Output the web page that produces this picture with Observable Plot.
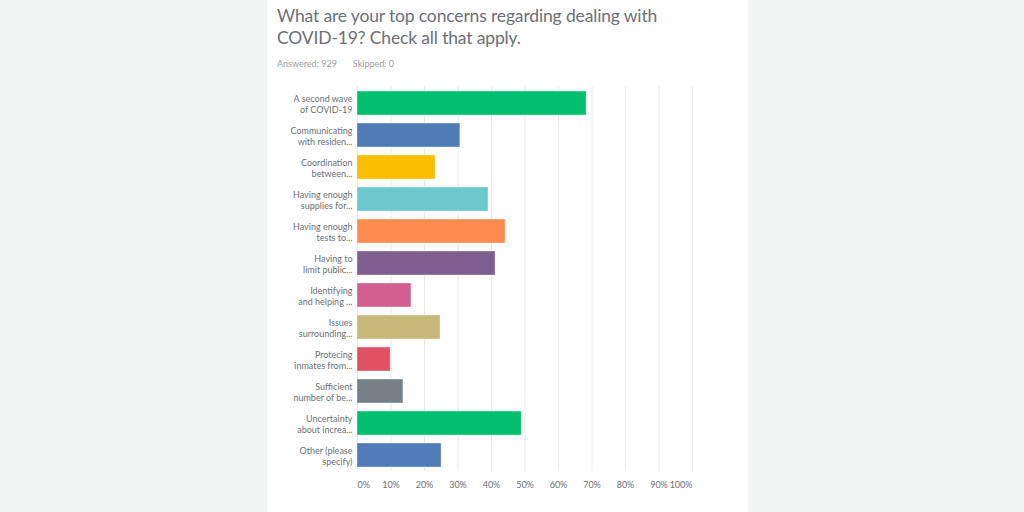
<!DOCTYPE html>
<html>
<head>
<meta charset="utf-8">
<script src="https://cdn.jsdelivr.net/npm/d3@7"></script>
<script src="https://cdn.jsdelivr.net/npm/@observablehq/plot@0.6"></script>
<style>
  html, body { margin: 0; padding: 0; width: 1024px; height: 512px; overflow: hidden; background: #f3f4f4; font-family: Lato, "Open Sans", sans-serif; }
  #card { position: absolute; left: 267px; top: 0; width: 481px; height: 512px; background: #ffffff; }
  #title { position: absolute; left: 10px; top: 5px; width: 470px; font-size: 17.5px; line-height: 22px; color: #6b7078; font-weight: 400; letter-spacing: -0.15px; white-space: nowrap; }
  #meta { position: absolute; left: 10px; top: 58px; font-size: 9px; color: #9a9ea3; }
  #meta span { margin-right: 16px; }
  #chart { position: absolute; left: 0; top: 80px; }
</style>
</head>
<body>
<div id="card">
  <div id="title">What are your top concerns regarding dealing with<br>COVID-19? Check all that apply.</div>
  <div id="meta"><span>Answered: 929</span><span>Skipped: 0</span></div>
  <div id="chart"></div>
</div>
<script>
const categories = [
  "A second wave\nof COVID-19",
  "Communicating\nwith residen...",
  "Coordination\nbetween...",
  "Having enough\nsupplies for...",
  "Having enough\ntests to...",
  "Having to\nlimit public...",
  "Identifying\nand helping ...",
  "Issues\nsurrounding...",
  "Protecing\ninmates from...",
  "Sufficient\nnumber of be...",
  "Uncertainty\nabout increa...",
  "Other (please\nspecify)"
];
const values = [68.4, 30.7, 23.3, 39.1, 44.2, 41.2, 16.1, 24.8, 9.9, 13.7, 49.0, 25.1];
const palette = ["#00bf6f", "#507cb6", "#f9be00", "#6bc8cd", "#ff8b4f", "#7f5f90", "#d25f90", "#c8b87a", "#e05263", "#768086", "#00bf6e", "#507cb7"];
const xTicks = [0, 10, 20, 30, 40, 50, 60, 70, 80, 90, 100];

const data = categories.map((c, i) => ({category: c, value: values[i]}));
const fmt = d => d + "%";

const chart = Plot.plot({
  width: 481,
  height: 432,
  marginLeft: 90,
  marginRight: 56,
  marginTop: 6,
  marginBottom: 41,
  style: {fontFamily: "Lato, 'Open Sans', sans-serif", color: "#6b7078", background: "transparent"},
  x: {domain: [0, 100], axis: null, label: null},
  y: {domain: categories, paddingInner: 0.25, paddingOuter: 0.125, axis: null, label: null},
  color: {domain: categories, range: palette},
  marks: [
    Plot.gridX(xTicks, {stroke: "#e9eaeb", strokeOpacity: 1, strokeWidth: 1}),
    Plot.barX(data, {y: "category", x: "value", fill: "category", stroke: "#ffffff", strokeOpacity: 0.35, strokeWidth: 1}),
    Plot.ruleY([0], {frameAnchor: "bottom", stroke: "#dcdee0"}),
    Plot.axisX([0], {tickSize: 0, tickPadding: 10, tickFormat: fmt, textAnchor: "start", fontSize: 9, fill: "#6b7078", label: null}),
    Plot.axisX(xTicks.slice(1, -1), {tickSize: 0, tickPadding: 10, tickFormat: fmt, fontSize: 9, fill: "#6b7078", label: null}),
    Plot.axisX([100], {tickSize: 0, tickPadding: 10, tickFormat: fmt, textAnchor: "end", fontSize: 9, fill: "#6b7078", label: null}),
    Plot.axisY({tickSize: 0, tickPadding: 5, fontSize: 9, lineHeight: 1.22, fill: "#6b7078", label: null})
  ]
});
document.getElementById("chart").appendChild(chart);
</script>
</body>
</html>
